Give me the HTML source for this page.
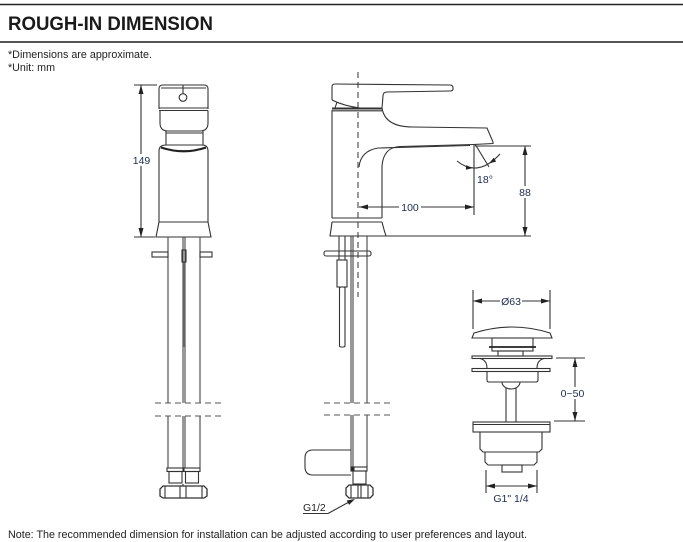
<!DOCTYPE html>
<html><head><meta charset="utf-8">
<style>
html,body{margin:0;padding:0;background:#fff;}
svg{display:block;}
text{font-family:"Liberation Sans",Arial,sans-serif;}
</style></head><body>
<svg width="683" height="542" viewBox="0 0 683 542" xmlns="http://www.w3.org/2000/svg">
<rect width="683" height="542" fill="#fff"/>
<!-- header -->
<line x1="0" y1="4.5" x2="683" y2="4.5" stroke="#222" stroke-width="1.5"/>
<text x="8" y="30" font-size="19" font-weight="bold" fill="#1a1a1a" textLength="205" lengthAdjust="spacingAndGlyphs">ROUGH-IN DIMENSION</text>
<line x1="0" y1="42" x2="683" y2="42" stroke="#555" stroke-width="2"/>
<text x="8" y="58" font-size="10.7" fill="#222" textLength="144" lengthAdjust="spacingAndGlyphs">*Dimensions are approximate.</text>
<text x="8" y="71" font-size="10.7" fill="#222" textLength="47" lengthAdjust="spacingAndGlyphs">*Unit: mm</text>

<g fill="none" stroke="#333" stroke-width="1.1">
<!-- ===== FRONT VIEW ===== -->
<path d="M159,109 L159,89 Q159,85 163,85 L204,85 Q208,85 208,89 L208,109"/>
<line x1="161" y1="88" x2="206" y2="88"/>
<line x1="183" y1="85" x2="183" y2="93.5"/>
<circle cx="183" cy="97.5" r="3.8"/>
<line x1="159" y1="108" x2="208" y2="108"/>
<line x1="159" y1="110.5" x2="208" y2="110.5"/>
<path d="M160,110.5 L160,123 Q160,131 168,131 L200,131 Q208,131 208,123 L208,110.5"/>
<line x1="166" y1="131" x2="166" y2="145"/>
<line x1="203" y1="131" x2="203" y2="145"/>
<line x1="166" y1="133" x2="203" y2="133"/>
<path d="M159,222 L159,151 Q159,145 166,145 L202,145 Q208,145 208,151 L208,222"/>
<path d="M161,147.5 Q184,155 206,147.5" stroke-width="2.2" stroke="#222"/>
<path d="M159,222 L156,237 L211,237 L208,222 Z"/>
<line x1="159" y1="222" x2="208" y2="222"/>
<!-- 149 dimension -->
<line x1="134" y1="85" x2="157" y2="85"/>
<line x1="134" y1="237" x2="155" y2="237"/>
<line x1="141" y1="85" x2="141" y2="237"/>
<!-- front pipes -->
<g stroke="#444">
<line x1="168" y1="237" x2="168" y2="403"/><line x1="183" y1="237" x2="183" y2="403"/>
<line x1="185" y1="237" x2="185" y2="403"/><line x1="200" y1="237" x2="200" y2="403"/>
<line x1="168" y1="416" x2="168" y2="468"/><line x1="183" y1="416" x2="183" y2="468"/>
<line x1="185" y1="416" x2="185" y2="468"/><line x1="200" y1="416" x2="200" y2="468"/>
<line x1="184" y1="262" x2="184" y2="347" stroke-width="0.6"/>
</g>
<rect x="152" y="252" width="16" height="5"/>
<rect x="200" y="252" width="12" height="5"/>
<rect x="182" y="250" width="4" height="12"/>
<line x1="155" y1="403" x2="223" y2="403" stroke="#555" stroke-dasharray="6,4"/>
<line x1="155" y1="416" x2="223" y2="416" stroke="#555" stroke-dasharray="6,4"/>
<rect x="167" y="468" width="16" height="3.5"/>
<rect x="169" y="471.5" width="13" height="11.5"/>
<rect x="184" y="468" width="16" height="3.5"/>
<rect x="185.5" y="471.5" width="13" height="11.5"/>
<path d="M163,486 L204,486 L207,489 L207,496 L204,498 L163,498 L160,496 L160,489 Z" stroke-width="1.3"/>
<line x1="165" y1="486" x2="165" y2="498"/><line x1="180" y1="486" x2="180" y2="498"/>
<line x1="186" y1="486" x2="186" y2="498"/><line x1="202" y1="486" x2="202" y2="498"/>
<line x1="183" y1="484" x2="183" y2="486"/>

<!-- ===== SIDE VIEW ===== -->
<line x1="358" y1="72" x2="358" y2="297" stroke="#555" stroke-width="1.2" stroke-dasharray="6,4"/>
<path d="M332,100 L332,87 Q332,84 335,84 L450,85 Q453,85 453,88 L453,89 Q453,91 450,91 L387,92 Q383,92 383,96 L382,108"/>
<path d="M332,100 Q344,106 360,108"/>
<path d="M335,108 L337,102"/>
<line x1="332" y1="108.5" x2="382" y2="108.5" stroke-width="2"/>
<line x1="332" y1="110.8" x2="382" y2="110.8"/>
<line x1="332" y1="110" x2="332" y2="218"/>
<path d="M382,108 C384,121 395,127 413,127 L487,128 L493,142 L493,143.5 L473,144.5"/>
<path d="M473,144.5 L400,146.5 C389,147 383,153 382,166 L382,218"/>
<path d="M470,145.5 L378,148 C366,150 360,157 359,167"/>
<line x1="332" y1="218" x2="382" y2="218"/>
<line x1="332" y1="222" x2="382" y2="222"/>
<path d="M332,222 Q331,230 330,236 L386,236 Q384,230 382,222"/>
<line x1="386" y1="236" x2="531" y2="236"/>
<!-- 88 dimension -->
<line x1="475" y1="146" x2="531" y2="146"/>
<line x1="525" y1="146" x2="525" y2="236"/>
<!-- 100 dimension -->
<line x1="474" y1="144" x2="474" y2="215"/>
<line x1="359" y1="207" x2="474" y2="207"/>
<!-- 18 deg -->
<line x1="475" y1="144" x2="489" y2="167"/>
<path d="M457,161 Q478,178 500,154"/>
<!-- side lower -->
<line x1="339" y1="236" x2="339" y2="260"/>
<line x1="345" y1="236" x2="345" y2="260"/>
<rect x="337" y="260" width="10" height="27"/>
<rect x="339.5" y="287" width="5.5" height="60" rx="1.5"/>
<g stroke="#444">
<line x1="351" y1="236" x2="351" y2="403"/><line x1="353" y1="236" x2="353" y2="403"/><line x1="367" y1="236" x2="367" y2="403"/>
<line x1="351" y1="415" x2="351" y2="467"/><line x1="353" y1="415" x2="353" y2="467"/><line x1="367" y1="415" x2="367" y2="467"/>
</g>
<rect x="324" y="251" width="47" height="5" rx="2"/>
<line x1="324" y1="403" x2="392" y2="403" stroke="#555" stroke-dasharray="6,4"/>
<line x1="324" y1="415" x2="392" y2="415" stroke="#555" stroke-dasharray="6,4"/>
<path d="M351,450 L313,450 Q305,450 305,458 L305,467 Q305,475 313,475 L351,475"/>
<rect x="351" y="467" width="16" height="4"/>
<rect x="351" y="467" width="3" height="4" fill="#222"/>
<rect x="353" y="471" width="13" height="13"/>
<path d="M349,485 L370,485 L373,488 L373,495 L370,498 L349,498 L346,495 L346,488 Z" stroke-width="1.3"/>
<line x1="351" y1="485" x2="351" y2="498"/><line x1="358" y1="485" x2="358" y2="498"/>
<line x1="361" y1="485" x2="361" y2="498"/><line x1="368" y1="485" x2="368" y2="498"/>
<line x1="303" y1="513.5" x2="328" y2="513.5"/>
<line x1="328" y1="513.5" x2="349" y2="502"/>

<!-- ===== POP-UP DRAIN ===== -->
<line x1="473" y1="290" x2="473" y2="329"/>
<line x1="550" y1="290" x2="550" y2="329"/>
<line x1="473" y1="301" x2="550" y2="301"/>
<path d="M472,338 L474,333 Q512,321 550,333 L552,338 Z"/>
<rect x="492" y="338" width="41" height="13"/>
<line x1="489" y1="347" x2="536" y2="347" stroke-width="1.8" stroke="#222"/>
<rect x="498" y="351" width="25" height="5"/>
<rect x="472" y="356" width="80" height="2.5"/>
<path d="M480,358.5 Q487,360 487,368.5"/>
<path d="M544,358.5 Q537,360 537,368.5"/>
<rect x="472" y="368.5" width="78" height="3"/>
<path d="M487,371.5 L487,380 Q487,382 489,382 L536,382 Q538,382 538,380 L538,371.5"/>
<path d="M502,382 A9,7 0 0 0 520,382"/>
<line x1="506" y1="388" x2="506" y2="422"/>
<line x1="516" y1="388" x2="516" y2="422"/>
<rect x="473" y="422" width="77" height="10"/>
<line x1="473" y1="424.5" x2="550" y2="424.5"/>
<path d="M480,432 L480,449 L483,452 L539,452 L542,449 L542,432"/>
<path d="M485,452 L485,462 L488,465 L534,465 L537,462 L537,452"/>
<rect x="502" y="465" width="20" height="7"/>
<line x1="486" y1="470" x2="486" y2="493"/>
<line x1="537" y1="470" x2="537" y2="493"/>
<line x1="486" y1="486" x2="537" y2="486"/>
<line x1="556" y1="358" x2="585" y2="358"/>
<line x1="554" y1="421" x2="585" y2="421"/>
<line x1="575" y1="358" x2="575" y2="421"/>
</g>

<!-- arrowheads -->
<g fill="#222" stroke="none">
<polygon points="141,85 138.5,94 143.5,94"/>
<polygon points="141,237 138.5,228 143.5,228"/>
<polygon points="359,207 368,204.5 368,209.5"/>
<polygon points="474,207 465,204.5 465,209.5"/>
<polygon points="525,146 522.5,155 527.5,155"/>
<polygon points="525,236 522.5,227 527.5,227"/>
<polygon points="473,168 465.85,169.7 466.15,165.3"/>
<polygon points="489,163.4 496.1,161.6 493.7,157.8"/>
<polygon points="355,499 349.05,504.9 346.75,500.5"/>
<polygon points="473,301 482,298.5 482,303.5"/>
<polygon points="550,301 541,298.5 541,303.5"/>
<polygon points="575,358 572.5,367 577.5,367"/>
<polygon points="575,421 572.5,412 577.5,412"/>
<polygon points="486,486 495,483.5 495,488.5"/>
<polygon points="537,486 528,483.5 528,488.5"/>
</g>

<!-- label backgrounds -->
<g fill="#fff">
<rect x="132" y="154" width="19" height="12"/>
<rect x="399" y="201" width="22" height="12"/>
<rect x="518" y="186" width="14" height="12"/>
<rect x="500" y="295" width="22" height="12"/>
<rect x="560" y="387" width="26" height="12"/>
</g>
<g font-size="10.5" fill="#1d2b50" text-anchor="middle">
<text x="141.5" y="164">149</text>
<text x="410" y="211">100</text>
<text x="525" y="196">88</text>
<text x="485" y="183">18°</text>
<text x="511" y="305">Ø63</text>
<text x="572.5" y="397">0~50</text>
<text x="511" y="502">G1" 1/4</text>
</g>
<text x="303" y="511" font-size="10.5" fill="#222">G1/2</text>

<text x="8" y="538" font-size="10.7" fill="#222" textLength="519" lengthAdjust="spacingAndGlyphs">Note: The recommended dimension for installation can be adjusted according to user preferences and layout.</text>
</svg>
</body></html>
